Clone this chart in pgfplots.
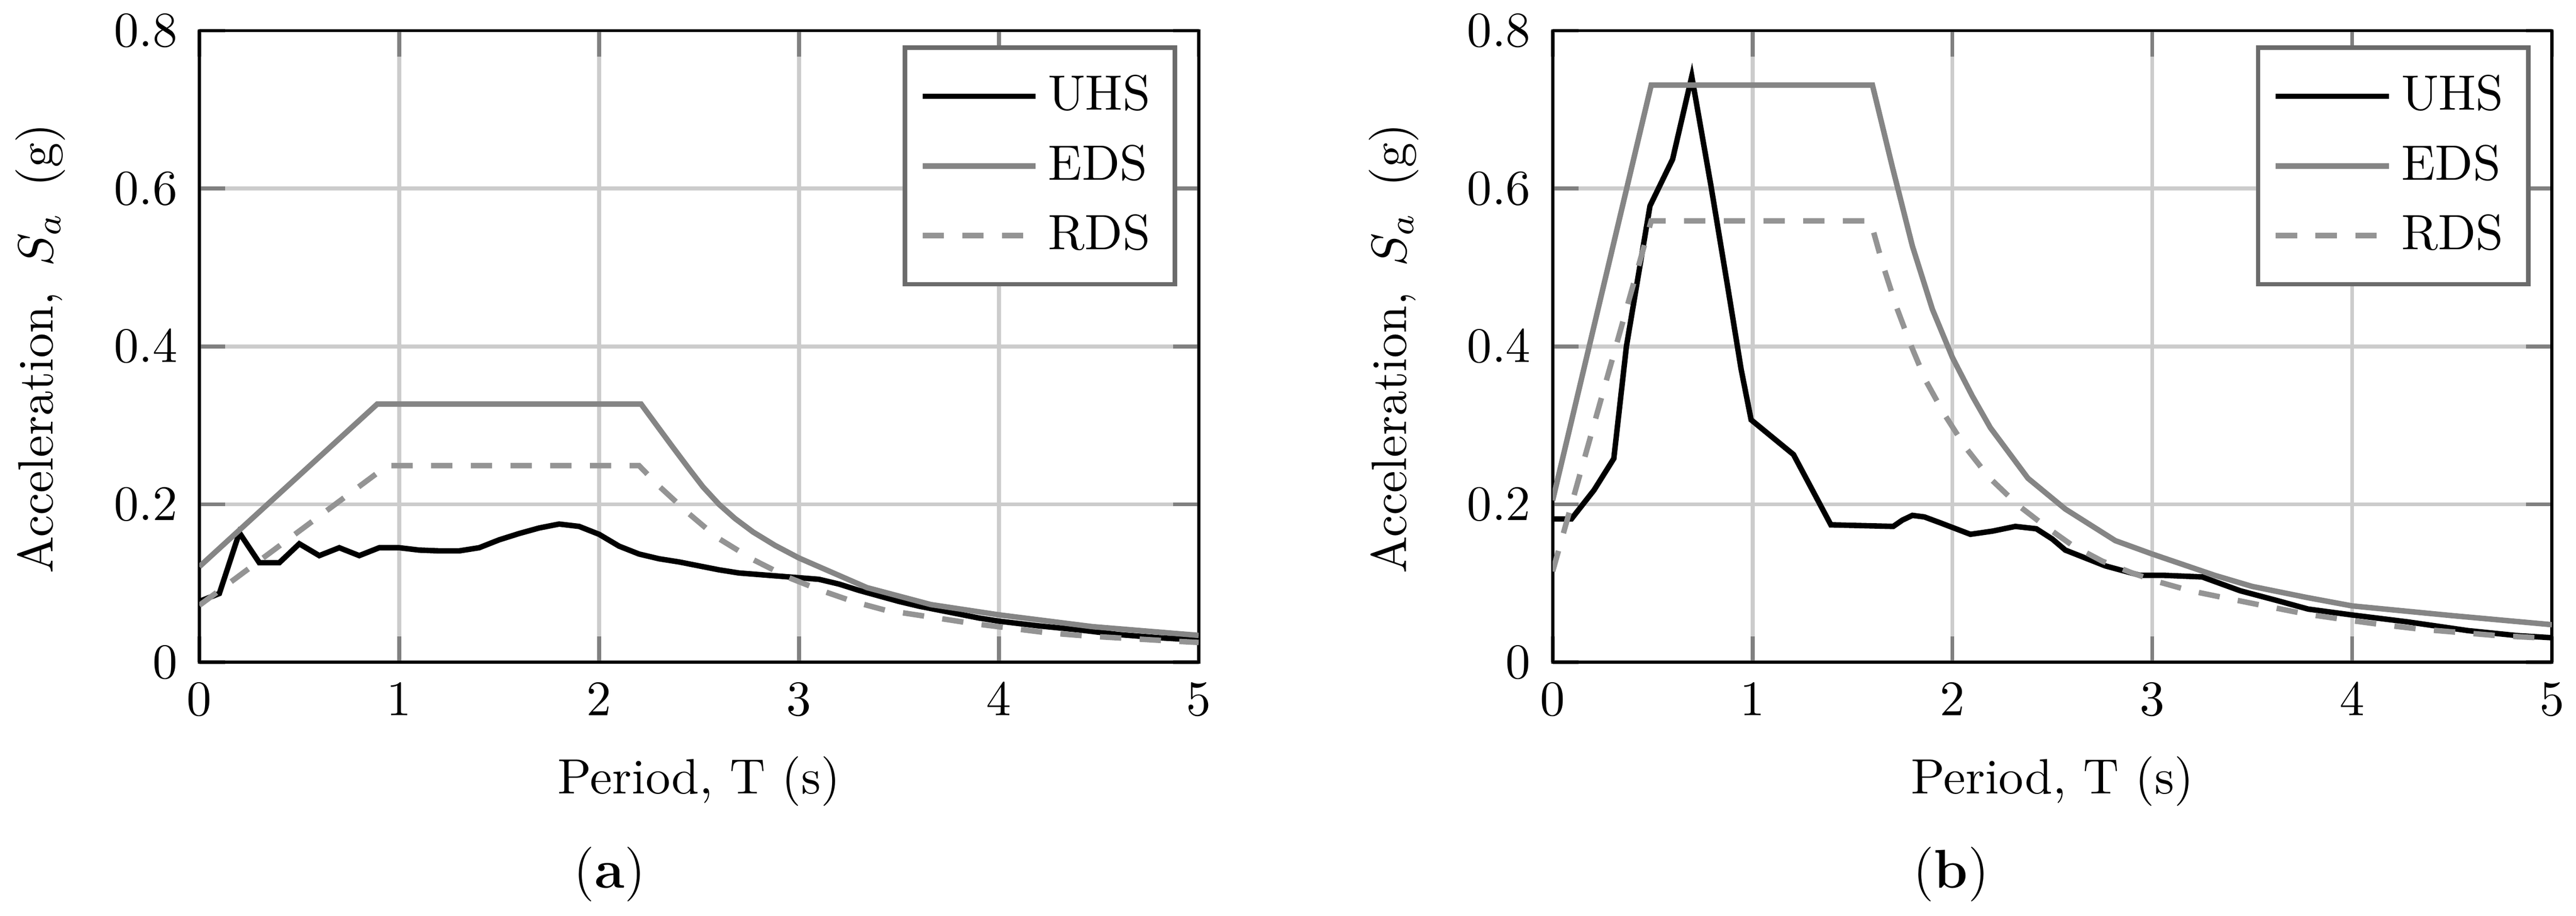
\documentclass[border=0pt]{standalone}
\usepackage{pgfplots}
\pgfplotsset{compat=1.18}
\definecolor{edsgray}{gray}{0.52}
\definecolor{rdsgray}{gray}{0.58}
\pgfplotsset{
  spec/.style={
    scale only axis, width=201.3pt, height=127.3pt, anchor=south west,
    xmin=0, xmax=5, ymin=0, ymax=0.8,
    xtick={0,1,2,3,4,5}, ytick={0,0.2,0.4,0.6,0.8},
    grid=major,
    major grid style={line width=0.8pt, color=black!20},
    tick style={line width=0.8pt, color=black!50},
    major tick length=5.2pt,
    tick align=inside,
    axis line style={line width=0.6pt, black},
    xticklabel style={yshift=-0.8pt},
    yticklabel style={xshift=-0.9pt},
    xlabel={Period, T (s)},
    ylabel={Acceleration,\hspace{5.1pt}$S_a$\hspace{5.1pt}(g)},
    xlabel style={at={(axis description cs:0.5,-0.2083)}, anchor=base},
    ylabel style={at={(axis description cs:-0.1466,0.497)}, anchor=base},
    legend style={at={(0.9786,0.9764)}, anchor=north east, draw=black!58, line width=0.9pt,
      inner xsep=3pt, inner ysep=3.5pt, row sep=1.5pt, nodes={inner sep=2pt, text depth=0.15em}},
    legend cell align=left,
    legend image code/.code={\draw[#1] (0cm,0cm) -- (0.8cm,0cm);},
  },
  uhs/.style={black, line width=1.1pt},
  eds/.style={edsgray, line width=1.1pt},
  rds/.style={rdsgray, line width=1.1pt, dash pattern=on 4.3pt off 3.7pt},
}
\begin{document}
\begin{tikzpicture}
\path[use as bounding box] (0,0) rectangle (518.9pt,184.57pt);
\begin{axis}[spec, at={(40.16pt,51.1pt)}]
\addplot[uhs] coordinates {
(0,0.077) (0.1,0.087) (0.2,0.164) (0.3,0.126) (0.4,0.126) (0.5,0.150) (0.6,0.135)
(0.7,0.145) (0.8,0.135) (0.9,0.145) (1.0,0.145) (1.1,0.142) (1.2,0.141) (1.3,0.141)
(1.4,0.145) (1.5,0.155) (1.6,0.163) (1.7,0.170) (1.8,0.175) (1.9,0.172) (2.0,0.162)
(2.1,0.147) (2.2,0.137) (2.3,0.131) (2.4,0.127) (2.5,0.122) (2.6,0.117) (2.7,0.113)
(2.8,0.111) (2.9,0.109) (3.0,0.107) (3.1,0.105) (3.2,0.099) (3.3,0.091) (3.4,0.084)
(3.5,0.077) (3.6,0.071) (3.7,0.066) (3.8,0.061) (3.9,0.056) (4.0,0.052) (4.2,0.046)
(4.4,0.041) (4.6,0.035) (4.8,0.031) (5.0,0.028)};
\addlegendentry{UHS}
\addplot[eds] coordinates {
(0,0.121) (0.89,0.327) (2.21,0.327) (2.3,0.296) (2.37,0.272) (2.45,0.245) (2.52,0.222)
(2.6,0.200) (2.68,0.182) (2.77,0.165) (2.88,0.148) (3.0,0.132) (3.34,0.0945) (3.66,0.073)
(4.0,0.060) (4.47,0.045) (5.0,0.034)};
\addlegendentry{EDS}
\addplot[rds] coordinates {
(0,0.072) (0.94,0.249) (2.2,0.249) (2.3,0.223) (2.45,0.188) (2.59,0.158) (2.77,0.130)
(2.95,0.107) (3.11,0.091) (3.27,0.077) (3.43,0.066) (3.69,0.056) (3.87,0.049) (4.06,0.043)
(4.25,0.037) (4.45,0.033) (4.65,0.030) (4.85,0.027) (5.0,0.025)};
\addlegendentry{RDS}
\end{axis}
\begin{axis}[spec, at={(312.76pt,51.1pt)}]
\addplot[uhs] coordinates {
(0,0.1815) (0.094,0.1815) (0.207,0.218) (0.306,0.258) (0.369,0.40) (0.487,0.578)
(0.60,0.637) (0.696,0.742) (0.793,0.602) (0.88,0.469) (0.943,0.371) (0.993,0.307)
(1.205,0.263) (1.392,0.174) (1.704,0.172) (1.75,0.180) (1.80,0.186) (1.86,0.184) (1.94,0.1765)
(2.09,0.162) (2.2,0.166) (2.315,0.172) (2.42,0.169) (2.5,0.156) (2.565,0.142) (2.765,0.122)
(2.94,0.110) (3.06,0.110) (3.25,0.108) (3.44,0.0905) (3.626,0.078) (3.78,0.0673)
(4.0,0.0598) (4.28,0.051) (4.58,0.040) (4.83,0.0336) (5.0,0.031)};
\addlegendentry{UHS}
\addplot[eds] coordinates {
(0,0.205) (0.493,0.731) (1.6,0.731) (1.7,0.627) (1.8,0.527) (1.9,0.447) (2.0,0.386)
(2.1,0.337) (2.19,0.297) (2.378,0.233) (2.565,0.194) (2.815,0.154) (3.0,0.137)
(3.313,0.110) (3.5,0.096) (3.773,0.082) (4.0,0.0713) (4.5,0.059) (5.0,0.0475)};
\addlegendentry{EDS}
\addplot[rds] coordinates {
(0,0.115) (0.493,0.559) (1.59,0.559) (1.65,0.505) (1.72,0.450) (1.79,0.403) (1.866,0.357)
(1.96,0.314) (2.066,0.272) (2.184,0.234) (2.328,0.199) (2.466,0.172) (2.6,0.148)
(2.75,0.128) (2.9,0.113) (3.014,0.103) (3.19,0.0905) (3.38,0.0806) (3.575,0.0707)
(3.77,0.061) (3.96,0.054) (4.15,0.0475) (4.35,0.0416) (4.54,0.0376) (4.73,0.0336)
(4.93,0.031) (5.0,0.030)};
\addlegendentry{RDS}
\end{axis}
\node[anchor=base, font=\fontsize{11}{13}\selectfont] at (122.8pt,5.65pt) {(\textbf{a})};
\node[anchor=base, font=\fontsize{11}{13}\selectfont] at (393pt,5.65pt) {(\textbf{b})};
\end{tikzpicture}
\end{document}
